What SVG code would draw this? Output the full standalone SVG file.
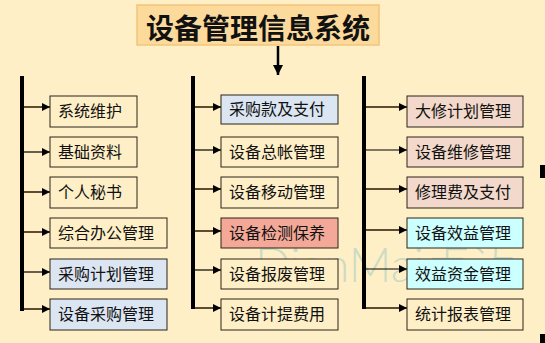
<svg xmlns="http://www.w3.org/2000/svg" width="545" height="343" viewBox="0 0 545 343">
<defs>
<marker id="ah" markerWidth="8" markerHeight="8" refX="8" refY="4" orient="auto" markerUnits="userSpaceOnUse"><path d="M0,0 L8,4 L0,8 Z" fill="#000"/></marker>
<marker id="ah2" markerWidth="11" markerHeight="11" refX="10" refY="5" orient="auto" markerUnits="userSpaceOnUse"><path d="M0,0 L10,5 L0,10 Z" fill="#000"/></marker>
</defs>
<style>
.box{stroke:#2a2418;stroke-width:1}
.t{font-family:"Noto Sans CJK SC","Noto Sans CJK JP",sans-serif;font-size:16px;fill:#111}
.bar{fill:#000}
.ab{stroke:#5e4c30;stroke-width:2;fill:none}
.ak{stroke:#000;stroke-width:1.2;fill:none}
.cream{fill:#FEEFC6}
.blue{fill:#DCE6F2}
.red{fill:#F4A898}
.pink{fill:#F2D9CB}
.cyan{fill:#CCFFFF}
</style>
<rect width="545" height="343" fill="#FEEFC6"/>
<text x="255" y="282" font-family="Lato, 'DejaVu Sans', sans-serif" font-weight="300" font-size="47" fill="#9CC8C2" fill-opacity="0.5">DianMai<tspan font-family="'Noto Sans CJK SC', sans-serif">点迈</tspan></text>
<g id="title">
<rect x="137" y="5" width="242" height="40" fill="#FBDA9C" stroke="#F3C47C" stroke-width="1.5"/>
<text x="258" y="39" text-anchor="middle" font-family="'Noto Sans CJK SC','Noto Sans CJK JP',sans-serif" font-weight="bold" font-size="28" fill="#111">设备管理信息系统</text>
</g>
<g id="connectors">
<line x1="278" y1="46" x2="278" y2="75" stroke="#000" stroke-width="2.5" marker-end="url(#ah2)"/>
<rect class="bar" x="20" y="76" width="4" height="235"/>
<rect class="bar" x="191" y="76" width="4" height="233"/>
<rect class="bar" x="362" y="76" width="4" height="233"/>
<line class="ab" x1="24" y1="107" x2="50" y2="107" marker-end="url(#ah)"/>
<line class="ak" x1="24" y1="152" x2="50" y2="152" marker-end="url(#ah)"/>
<line class="ab" x1="24" y1="192" x2="50" y2="192" marker-end="url(#ah)"/>
<line class="ab" x1="24" y1="232" x2="50" y2="232" marker-end="url(#ah)"/>
<line class="ak" x1="24" y1="272" x2="50" y2="272" marker-end="url(#ah)"/>
<line class="ab" x1="24" y1="309" x2="50" y2="309" marker-end="url(#ah)"/>
<line class="ab" x1="195" y1="107" x2="221" y2="107" marker-end="url(#ah)"/>
<line class="ak" x1="195" y1="150" x2="221" y2="150" marker-end="url(#ah)"/>
<line class="ab" x1="195" y1="189" x2="221" y2="189" marker-end="url(#ah)"/>
<line class="ab" x1="195" y1="231" x2="221" y2="231" marker-end="url(#ah)"/>
<line class="ak" x1="195" y1="270" x2="221" y2="270" marker-end="url(#ah)"/>
<line class="ab" x1="195" y1="308" x2="221" y2="308" marker-end="url(#ah)"/>
<line class="ab" x1="366" y1="107" x2="407" y2="107" marker-end="url(#ah)"/>
<line class="ak" x1="366" y1="150" x2="407" y2="150" marker-end="url(#ah)"/>
<line class="ab" x1="366" y1="189" x2="407" y2="189" marker-end="url(#ah)"/>
<line class="ab" x1="366" y1="230" x2="407" y2="230" marker-end="url(#ah)"/>
<line class="ak" x1="366" y1="269" x2="407" y2="269" marker-end="url(#ah)"/>
<line class="ab" x1="366" y1="308" x2="407" y2="308" marker-end="url(#ah)"/>
</g>
<g id="n1"><rect class="box cream" x="50" y="96" width="87" height="31"/><text class="t" x="58" y="117">系统维护</text></g>
<g id="n2"><rect class="box cream" x="50" y="137" width="87" height="30"/><text class="t" x="58" y="158">基础资料</text></g>
<g id="n3"><rect class="box cream" x="50" y="177" width="87" height="31"/><text class="t" x="58" y="198">个人秘书</text></g>
<g id="n4"><rect class="box cream" x="50" y="218" width="117" height="30"/><text class="t" x="58" y="239">综合办公管理</text></g>
<g id="n5"><rect class="box blue" x="50" y="259" width="117" height="30"/><text class="t" x="58" y="280">采购计划管理</text></g>
<g id="n6"><rect class="box blue" x="50" y="299" width="117" height="31"/><text class="t" x="58" y="320">设备采购管理</text></g>
<g id="n7"><rect class="box blue" x="221" y="95" width="117" height="29"/><text class="t" x="229" y="115">采购款及支付</text></g>
<g id="n8"><rect class="box cream" x="221" y="137" width="117" height="30"/><text class="t" x="229" y="158">设备总帐管理</text></g>
<g id="n9"><rect class="box cream" x="221" y="177" width="117" height="31"/><text class="t" x="229" y="198">设备移动管理</text></g>
<g id="n10"><rect class="box red" x="221" y="218" width="117" height="30"/><text class="t" x="229" y="239">设备检测保养</text></g>
<g id="n11"><rect class="box cream" x="221" y="259" width="117" height="30"/><text class="t" x="229" y="280">设备报废管理</text></g>
<g id="n12"><rect class="box cream" x="221" y="299" width="117" height="31"/><text class="t" x="229" y="320">设备计提费用</text></g>
<g id="n13"><rect class="box pink" x="407" y="96" width="116" height="31"/><text class="t" x="415" y="117">大修计划管理</text></g>
<g id="n14"><rect class="box pink" x="407" y="137" width="116" height="30"/><text class="t" x="415" y="158">设备维修管理</text></g>
<g id="n15"><rect class="box pink" x="407" y="177" width="116" height="31"/><text class="t" x="415" y="198">修理费及支付</text></g>
<g id="n16"><rect class="box cyan" x="407" y="218" width="116" height="30"/><text class="t" x="415" y="239">设备效益管理</text></g>
<g id="n17"><rect class="box cyan" x="407" y="259" width="116" height="30"/><text class="t" x="415" y="280">效益资金管理</text></g>
<g id="n18"><rect class="box cream" x="407" y="299" width="116" height="31"/><text class="t" x="415" y="320">统计报表管理</text></g>
<rect x="540" y="165" width="5" height="13" fill="#000"/>
<rect x="540" y="334" width="5" height="9" fill="#000"/>
</svg>
